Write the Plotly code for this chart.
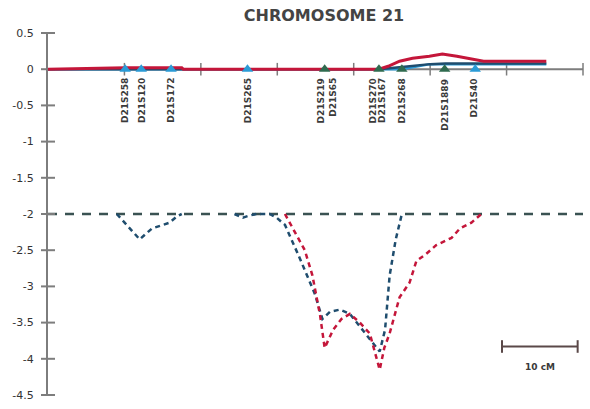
import plotly.graph_objects as go

# ---------------- data ----------------
marker_names = ["D21S258", "D21S120", "D21S172", "D21S265", "D21S219/D21S65",
                "D21S270/D21S167", "D21S268", "D21S1889", "D21S40"]
marker_pos = [10.1, 12.2, 16.1, 26.1, 36.2, 43.3, 46.3, 51.9, 55.9]
marker_kind = ["light", "light", "light", "light", "green", "green", "green", "green", "light"]

label_names = ["D21S258", "D21S120", "D21S172", "D21S265", "D21S219", "D21S65",
               "D21S270", "D21S167", "D21S268", "D21S1889", "D21S40"]
label_pos = [10.1, 12.2, 16.1, 26.1, 35.7, 37.3, 42.5, 43.6, 46.3, 52.0, 55.7]

# solid (upper) curves
red_x = [0, 10.1, 17.5, 17.7, 43.3, 44.5, 46.0, 47.7, 49.9, 51.6, 53.5, 55.4, 57.0, 65.2]
red_y = [0.0, 0.02, 0.02, 0.0, 0.0, 0.04, 0.11, 0.15, 0.18, 0.21, 0.18, 0.14, 0.11, 0.11]
dblue_x = [0, 43.3, 46.3, 50.0, 52.0, 65.2]
dblue_y = [0, 0, 0.03, 0.07, 0.08, 0.08]
lblue_x = [0, 46.3, 50.0, 65.2]
lblue_y = [0, 0, 0.07, 0.07]

# dashed (lower) curves
bdash_x = [9.0, 12.0, 13.6, 15.9, 16.9, 17.5, None, 24.4, 25.5, 26.4, 27.3, 29.0, 29.9, 31.0,
           32.9, 34.9, 35.9, 36.9, 38.2, 39.5, 40.8, 42.1, 43.4, 44.1, 44.7, 45.5, 46.3]
bdash_y = [-2.0, -2.35, -2.2, -2.12, -2.03, -2.0, None, -2.0, -2.05, -2.02, -2.0, -2.0, -2.05, -2.15,
           -2.6, -3.1, -3.45, -3.35, -3.32, -3.38, -3.55, -3.72, -3.9, -3.6, -2.85, -2.35, -2.0]
rdash_x = [31.0, 32.3, 33.6, 34.6, 35.6, 36.2, 37.3, 38.4, 39.5, 40.8, 42.1, 43.4, 44.0, 44.7,
           46.0, 47.3, 48.2, 49.5, 50.8, 52.8, 53.9, 55.4, 56.7]
rdash_y = [-2.0, -2.25, -2.5, -2.85, -3.4, -3.85, -3.6, -3.45, -3.38, -3.5, -3.65, -4.15, -3.85, -3.65,
           -3.15, -2.95, -2.65, -2.55, -2.43, -2.33, -2.2, -2.12, -2.0]

threshold = -2.0
y_ticks = [0.5, 0, -0.5, -1, -1.5, -2, -2.5, -3, -3.5, -4, -4.5]
y_tick_text = ["0.5", "0", "-0.5", "-1", "-1.5", "-2", "-2.5", "-3", "-3.5", "-4", "-4.5"]
x_ticks = [10, 20, 30, 40, 50, 60, 70]
y_range = [-4.5, 0.5]
scale_bar = [59.4, 69.3]
scale_y = -3.83

RED = "#c4163a"
DBLUE = "#1f4d6e"
LBLUE = "#2b9bd6"
GREEN = "#2f6b4f"
GRAY = "#7d7d7d"
BAR = "#5a4848"

fig = go.Figure()

# threshold line
fig.add_trace(go.Scatter(x=[0, 70], y=[threshold, threshold], mode="lines",
                         line=dict(color="#3a5252", width=2.5, dash="9px,8px"), hoverinfo="skip"))
# x axis line at 0
fig.add_trace(go.Scatter(x=[0, 70], y=[0, 0], mode="lines",
                         line=dict(color=GRAY, width=2), hoverinfo="skip"))
# crossing tick marks on both axes
fig.add_trace(go.Scatter(x=[0] * len(y_ticks), y=y_ticks, mode="markers", cliponaxis=False,
                         marker=dict(symbol="line-ew-open", size=10, color=GRAY,
                                     line=dict(color=GRAY, width=2)), hoverinfo="skip"))
fig.add_trace(go.Scatter(x=x_ticks, y=[0] * len(x_ticks), mode="markers", cliponaxis=False,
                         marker=dict(symbol="line-ns-open", size=9, color=GRAY,
                                     line=dict(color=GRAY, width=1.5)), hoverinfo="skip"))

fig.add_trace(go.Scatter(x=lblue_x, y=lblue_y, mode="lines", line=dict(color=LBLUE, width=2.5)))
fig.add_trace(go.Scatter(x=dblue_x, y=dblue_y, mode="lines", line=dict(color=DBLUE, width=2.5)))
fig.add_trace(go.Scatter(x=red_x, y=red_y, mode="lines", line=dict(color=RED, width=3)))

fig.add_trace(go.Scatter(x=bdash_x, y=bdash_y, mode="lines", connectgaps=False,
                         line=dict(color=DBLUE, width=2.5, dash="5px,4px")))
fig.add_trace(go.Scatter(x=rdash_x, y=rdash_y, mode="lines",
                         line=dict(color=RED, width=2.5, dash="5px,4px")))

# markers
fig.add_trace(go.Scatter(
    x=marker_pos, y=[0] * len(marker_pos), mode="markers", cliponaxis=False,
    marker=dict(symbol="triangle-up", size=10,
                color=[LBLUE if k == "light" else GREEN for k in marker_kind]),
    hovertext=marker_names, hoverinfo="text"))

# scale bar
fig.add_trace(go.Scatter(x=scale_bar, y=[scale_y, scale_y], mode="lines+markers",
                         line=dict(color=BAR, width=2),
                         marker=dict(symbol="line-ns-open", size=9, color=BAR,
                                     line=dict(color=BAR, width=2))))

annotations = []
for name, xp in zip(label_names, label_pos):
    annotations.append(dict(x=xp, y=0, xref="x", yref="y", text="<b>" + name + "</b>",
                            textangle=-90, showarrow=False, xanchor="center", yanchor="top",
                            yshift=-7,
                            font=dict(family="DejaVu Sans", size=9, color="#3a3a3a")))
annotations.append(dict(x=sum(scale_bar) / 2, y=scale_y, xref="x", yref="y", text="<b>10 cM</b>",
                        showarrow=False, yshift=-21,
                        font=dict(family="DejaVu Sans", size=9, color="#3a3a3a")))

fig.update_layout(
    width=590, height=409,
    margin=dict(l=48, r=7, t=33, b=10),
    paper_bgcolor="white", plot_bgcolor="white",
    showlegend=False,
    title=dict(text="<b>CHROMOSOME 21</b>", x=324 / 590, xanchor="center", xref="container",
               y=1 - 15 / 409, yanchor="middle", yref="container",
               font=dict(family="DejaVu Sans", size=16, color="#444444")),
    xaxis=dict(range=[0, 70], showgrid=False, zeroline=False, showticklabels=False,
               showline=False, ticks="", fixedrange=True),
    yaxis=dict(range=y_range, showgrid=False, zeroline=False, showline=True,
               linecolor=GRAY, linewidth=2, tickvals=y_ticks, ticktext=y_tick_text,
               ticks="", ticklabelstandoff=10,
               tickfont=dict(family="DejaVu Sans", size=11, color="#333333")),
    annotations=annotations,
)

fig.write_html("out.html")
